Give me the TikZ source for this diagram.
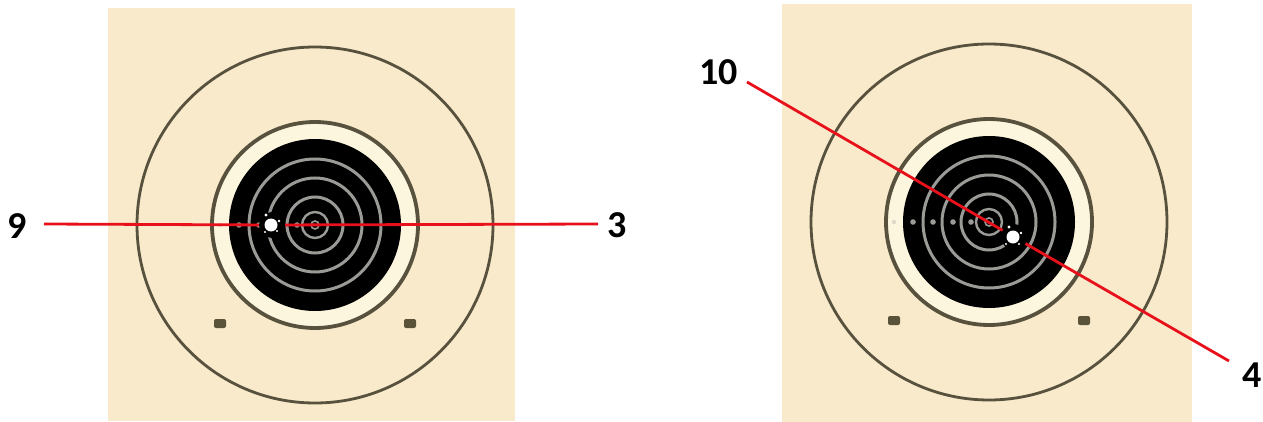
\documentclass[tikz,border=0pt]{standalone}
\usepackage{fontspec}
\setmainfont{Carlito}
\definecolor{paper}{HTML}{F8EACB}
\definecolor{cream}{HTML}{FDF6DE}
\definecolor{ringc}{HTML}{57513D}
\definecolor{inring}{HTML}{9A9A96}
\definecolor{marker}{HTML}{5A5239}
\definecolor{redc}{HTML}{E8101A}
\tikzset{
  ringline/.style={draw=ringc},
  innerring/.style={draw=inring, line width=3},
  redline/.style={draw=redc, line width=2.8},
  lbl/.style={font=\bfseries\fontsize{38}{40}\selectfont, inner sep=0pt, text=black},
  hole/.style={circle, fill=black, minimum size=26, inner sep=0pt},
}
\newcommand{\drawtarget}{%
  \draw[ringline, line width=2.8] (0,0) circle (178);
  \fill[cream] (0,0) circle (103);
  \draw[ringline, line width=3.8] (0,0) circle (103);
  \fill[black] (0,0) circle (86);
  \draw[innerring] (0,0) circle (66);
  \draw[innerring] (0,0) circle (47);
  \draw[innerring] (0,0) circle (28);
  \draw[innerring, line width=2.4] (0,0) circle (13);
  \draw[innerring, line width=1.6] (0,0) circle (4);
  \foreach \dx in {-76,-56,-36,-18} {\fill[inring] (\dx,0) circle (2.8);}
  \fill[cream!70!inring] (-95,0) circle (2.2);
  \fill[marker, rounded corners=2] (-101,94) rectangle (-89,103);
  \fill[marker, rounded corners=2] (89,94) rectangle (101,103);
}
\begin{document}
\begin{tikzpicture}[x=1pt,y=-1pt]
\useasboundingbox (0,0) rectangle (1263,422);
\fill[white] (0,0) rectangle (1263,422);
% left target
\fill[paper] (108,8) rectangle (515,421);
\begin{scope}[shift={(315,225)}]
  \drawtarget
\end{scope}
% right target
\fill[paper] (782,4) rectangle (1192,422);
\begin{scope}[shift={(989,222)}]
  \drawtarget
\end{scope}
% bullet holes
\node[hole] (holeL) at (272,225) {};
\fill[white] (271,225) circle (6.5);
\fill[white] (266,215) circle (1.6);
\fill[white] (279,221) circle (1.3);
\fill[white] (277,231) circle (1.2);
\fill[white] (265,232) circle (1.2);
\node[hole] (holeR) at (1014,237) {};
\fill[white] (1013,237) circle (6.5);
\fill[white] (1009,227) circle (1.6);
\fill[white] (1021,233) circle (1.3);
\fill[white] (1019,244) circle (1.2);
\fill[white] (1006,244) circle (1.2);
% labels
\node[lbl] (l9) at (17.5,226) {9};
\node[lbl] (l3) at (617,225.5) {3};
\node[lbl] (l10) at (718.5,72) {10};
\node[lbl] (l4) at (1252,375.5) {4};
% connector ends
\coordinate (e9) at (44,224);
\coordinate (e3) at (598,224);
\coordinate (e10) at (747,82);
\coordinate (e4) at (1229,361);
\draw[redline] (e9) -- (holeL);
\draw[redline] (holeL) -- (e3);
\draw[redline] (e10) -- (holeR);
\draw[redline] (holeR) -- (e4);
\end{tikzpicture}
\end{document}
